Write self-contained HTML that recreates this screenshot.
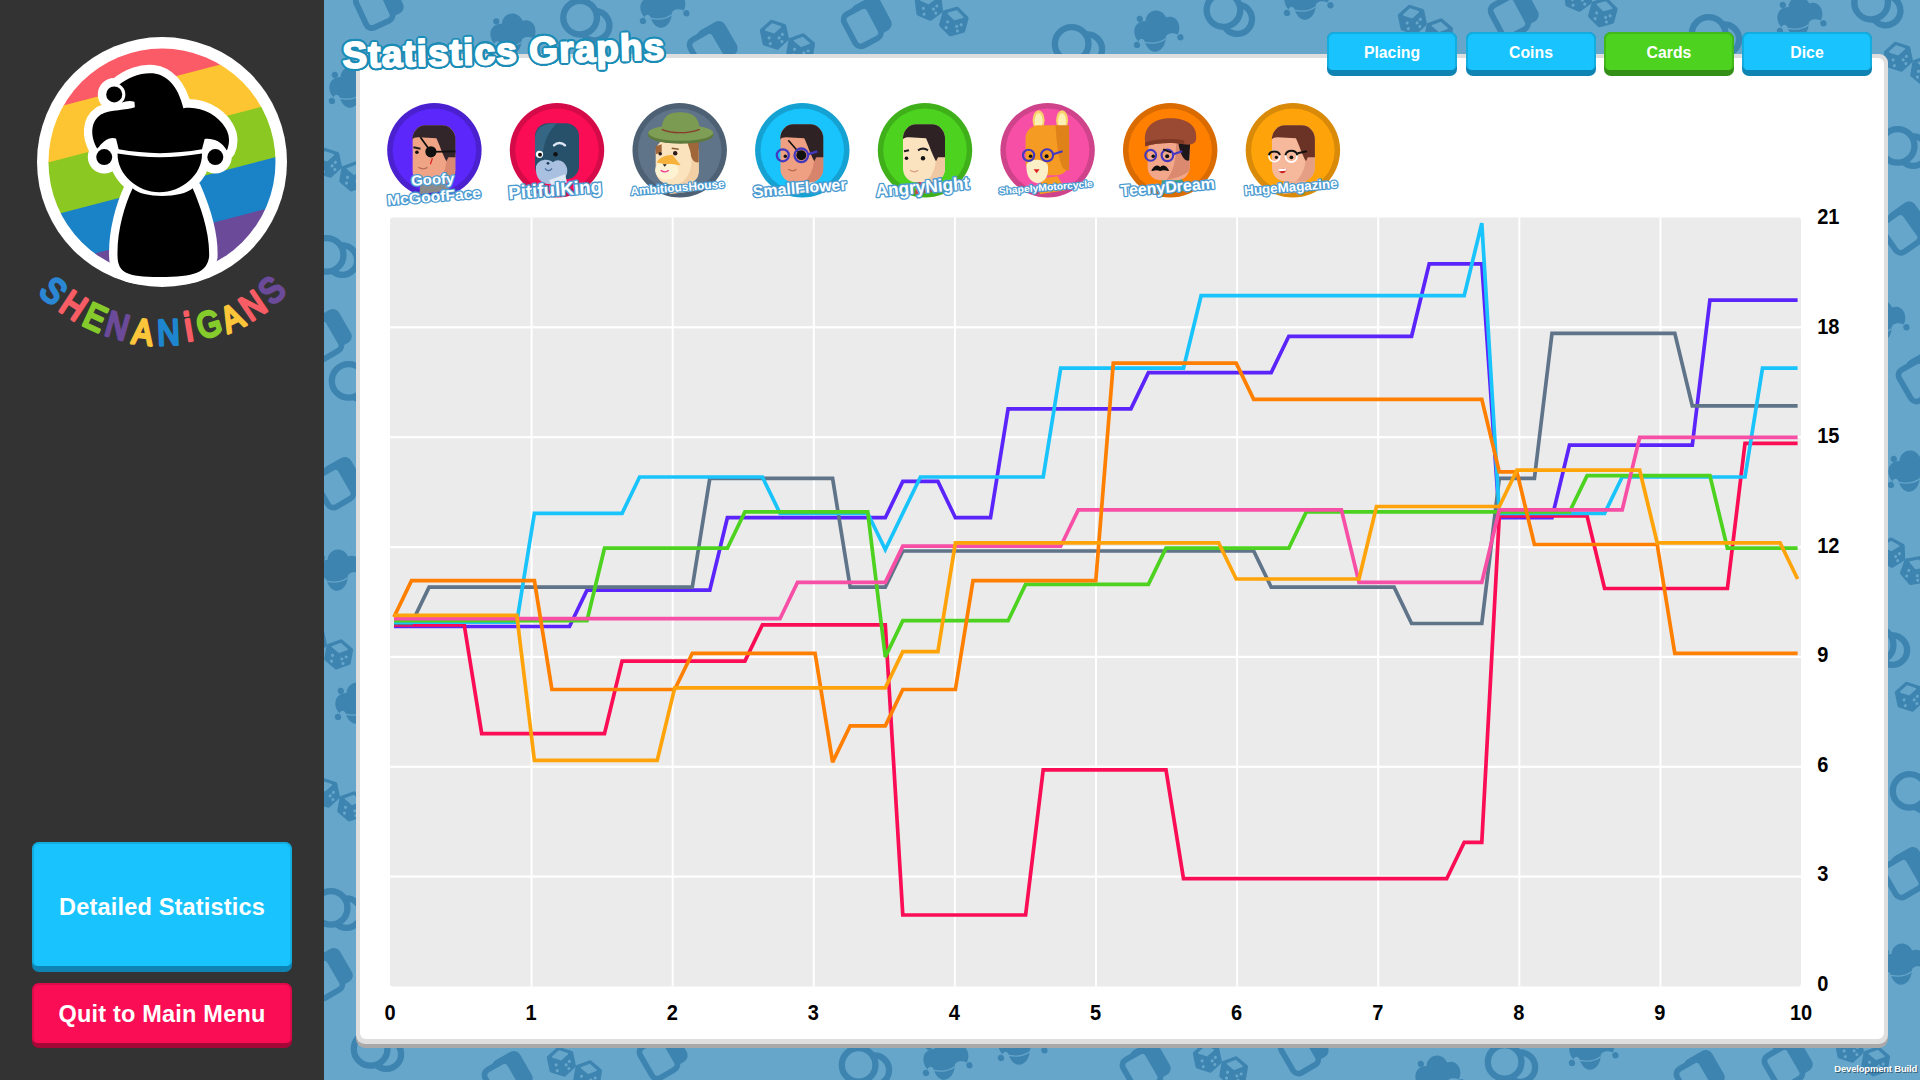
<!DOCTYPE html>
<html lang="en">
<head>
<meta charset="utf-8">
<title>Statistics Graphs</title>
<style>
html,body{margin:0;padding:0;}
body{width:1920px;height:1080px;overflow:hidden;position:relative;background:#66a6ca;font-family:"Liberation Sans","DejaVu Sans",sans-serif;}
.abs{position:absolute;}
#bg{left:324px;top:0;width:1596px;height:1080px;}
#side{left:0;top:0;width:324px;height:1080px;background:#333333;}
#panel{left:356px;top:54px;width:1532px;height:993.5px;background:#a9a9a9;border-radius:9px;}
#panel .mid{position:absolute;left:0;top:0;right:0;bottom:4px;background:#dedede;border-radius:9px;}
#panel .in{position:absolute;left:4px;top:3.5px;right:4px;bottom:8.5px;background:#fff;border-radius:6px;}
.btn{position:absolute;border-radius:7px;color:#fff;font-weight:bold;text-align:center;box-sizing:border-box;}
.btn .face{position:absolute;left:0;top:0;right:0;border-radius:7px 7px 5px 5px;box-sizing:border-box;}
.btn span{position:absolute;left:0;right:0;display:block;}
.tab{width:130px;height:43.5px;top:32px;font-size:15.8px;}
.tab .face{height:38px;}
.tab span{top:12.2px;letter-spacing:0;}
.cy{background:#0f84b3;}
.cy .face{background:#19c4fe;border:2px solid #14addf;border-bottom:none;}
.gr{background:#348f16;}
.gr .face{background:#4cd21f;border:2px solid #42b91b;border-bottom:none;}
.rd{background:#a30837;}
.rd .face{background:#fb0d55;border:2px solid #dc0b4a;border-bottom:none;}
#title{left:343px;top:35px;font-size:37px;font-weight:bold;color:#fff;white-space:nowrap;transform:rotate(-1.55deg);transform-origin:0 100%;letter-spacing:1.1px;-webkit-text-stroke:1.8px #fff;
  text-shadow:2.90px 0.00px 0 #1b8cb6,2.83px 0.65px 0 #1b8cb6,2.61px 1.26px 0 #1b8cb6,2.27px 1.81px 0 #1b8cb6,1.81px 2.27px 0 #1b8cb6,1.26px 2.61px 0 #1b8cb6,0.65px 2.83px 0 #1b8cb6,0.00px 2.90px 0 #1b8cb6,-0.65px 2.83px 0 #1b8cb6,-1.26px 2.61px 0 #1b8cb6,-1.81px 2.27px 0 #1b8cb6,-2.27px 1.81px 0 #1b8cb6,-2.61px 1.26px 0 #1b8cb6,-2.83px 0.65px 0 #1b8cb6,-2.90px 0.00px 0 #1b8cb6,-2.83px -0.65px 0 #1b8cb6,-2.61px -1.26px 0 #1b8cb6,-2.27px -1.81px 0 #1b8cb6,-1.81px -2.27px 0 #1b8cb6,-1.26px -2.61px 0 #1b8cb6,-0.65px -2.83px 0 #1b8cb6,-0.00px -2.90px 0 #1b8cb6,0.65px -2.83px 0 #1b8cb6,1.26px -2.61px 0 #1b8cb6,1.81px -2.27px 0 #1b8cb6,2.27px -1.81px 0 #1b8cb6,2.61px -1.26px 0 #1b8cb6,2.83px -0.65px 0 #1b8cb6,1.60px 0.00px 0 #1b8cb6,1.39px 0.80px 0 #1b8cb6,0.80px 1.39px 0 #1b8cb6,0.00px 1.60px 0 #1b8cb6,-0.80px 1.39px 0 #1b8cb6,-1.39px 0.80px 0 #1b8cb6,-1.60px 0.00px 0 #1b8cb6,-1.39px -0.80px 0 #1b8cb6,-0.80px -1.39px 0 #1b8cb6,-0.00px -1.60px 0 #1b8cb6,0.80px -1.39px 0 #1b8cb6,1.39px -0.80px 0 #1b8cb6;}
.nm{position:absolute;white-space:nowrap;font-weight:bold;color:#fff;text-align:center;transform-origin:50% 50%;line-height:1;}
.nm.o{-webkit-text-stroke:3px #2f8fbe;}
#dev{right:3px;bottom:6px;font-size:9.5px;font-weight:bold;color:#fff;text-shadow:1px 1px 0 rgba(0,0,0,.45);letter-spacing:-0.2px;}
svg text{font-family:"Liberation Sans","DejaVu Sans",sans-serif;}
</style>
</head>
<body>
<!-- background pattern -->
<svg id="bg" class="abs" width="1596" height="1080" viewBox="324 0 1596 1080">
<g transform="translate(378.0,5.0) rotate(-25) scale(1.05)"><rect x="-8" y="-20" width="30" height="36" rx="7" fill="#3d84b1"/><rect x="-18" y="-16" width="27" height="34" rx="6" fill="#66a6ca" stroke="#3d84b1" stroke-width="5.5"/></g>
<g transform="translate(512.0,35.0) rotate(-8) scale(1.05)" fill="#3d84b1"><path d="M-18 6 C-24 -4 -18 -14 -8 -12 C-6 -22 8 -24 12 -12 C22 -14 26 -2 20 6 C14 2 8 4 8 8 C4 22 -10 22 -12 8 C-12 4 -16 2 -18 6 Z"/><circle cx="-20" cy="9" r="3"/><circle cx="22" cy="9" r="3"/><circle cx="-13" cy="-15" r="3"/><path d="M-12 8 C-4 11 2 11 8 8" stroke="#66a6ca" stroke-width="1.2" fill="none"/></g>
<g transform="translate(587.0,21.0) rotate(10) scale(1.05)" fill="none" stroke="#3d84b1" stroke-width="6"><circle cx="8" cy="3" r="14"/><circle cx="-7" cy="-2" r="16" fill="#66a6ca"/></g>
<g transform="translate(662.0,8.0) rotate(-10) scale(1.05)" fill="#3d84b1"><path d="M-18 6 C-24 -4 -18 -14 -8 -12 C-6 -22 8 -24 12 -12 C22 -14 26 -2 20 6 C14 2 8 4 8 8 C4 22 -10 22 -12 8 C-12 4 -16 2 -18 6 Z"/><circle cx="-20" cy="9" r="3"/><circle cx="22" cy="9" r="3"/><circle cx="-13" cy="-15" r="3"/><path d="M-12 8 C-4 11 2 11 8 8" stroke="#66a6ca" stroke-width="1.2" fill="none"/></g>
<g transform="translate(712.0,48.0) rotate(-30) scale(1.05)"><rect x="-8" y="-20" width="30" height="36" rx="7" fill="#3d84b1"/><rect x="-18" y="-16" width="27" height="34" rx="6" fill="#66a6ca" stroke="#3d84b1" stroke-width="5.5"/></g>
<g transform="translate(787.0,40.0) rotate(0) scale(1.05)"><g transform="translate(-12.0,-5.0) rotate(-12)"><polygon points="0.0,-12.5 10.8,-6.2 10.8,6.2 0.0,12.5 -10.8,6.2 -10.8,-6.3" fill="#3d84b1" stroke="#3d84b1" stroke-width="4" stroke-linejoin="round"/><polygon points="0.0,-10.4 7.1,-6.2 0.0,-2.1 -7.1,-6.2" fill="#66a6ca" stroke="#66a6ca" stroke-width="1.5" stroke-linejoin="round"/><circle cx="-5.6" cy="1.9" r="1.5" fill="#66a6ca"/><circle cx="-5.6" cy="7.5" r="1.5" fill="#66a6ca"/><circle cx="3.8" cy="3.8" r="1.5" fill="#66a6ca"/><circle cx="7.5" cy="1.2" r="1.5" fill="#66a6ca"/><circle cx="5.6" cy="7.8" r="1.5" fill="#66a6ca"/></g><g transform="translate(13.0,8.0) rotate(10)"><polygon points="0.0,-12.5 10.8,-6.2 10.8,6.2 0.0,12.5 -10.8,6.2 -10.8,-6.3" fill="#3d84b1" stroke="#3d84b1" stroke-width="4" stroke-linejoin="round"/><polygon points="0.0,-10.4 7.1,-6.2 0.0,-2.1 -7.1,-6.2" fill="#66a6ca" stroke="#66a6ca" stroke-width="1.5" stroke-linejoin="round"/><circle cx="-5.6" cy="1.9" r="1.5" fill="#66a6ca"/><circle cx="-5.6" cy="7.5" r="1.5" fill="#66a6ca"/><circle cx="3.8" cy="3.8" r="1.5" fill="#66a6ca"/><circle cx="7.5" cy="1.2" r="1.5" fill="#66a6ca"/><circle cx="5.6" cy="7.8" r="1.5" fill="#66a6ca"/></g></g>
<g transform="translate(866.0,23.0) rotate(-28) scale(1.05)"><rect x="-8" y="-20" width="30" height="36" rx="7" fill="#3d84b1"/><rect x="-18" y="-16" width="27" height="34" rx="6" fill="#66a6ca" stroke="#3d84b1" stroke-width="5.5"/></g>
<g transform="translate(941.0,12.0) rotate(5) scale(1.05)"><g transform="translate(-12.0,-5.0) rotate(-12)"><polygon points="0.0,-12.5 10.8,-6.2 10.8,6.2 0.0,12.5 -10.8,6.2 -10.8,-6.3" fill="#3d84b1" stroke="#3d84b1" stroke-width="4" stroke-linejoin="round"/><polygon points="0.0,-10.4 7.1,-6.2 0.0,-2.1 -7.1,-6.2" fill="#66a6ca" stroke="#66a6ca" stroke-width="1.5" stroke-linejoin="round"/><circle cx="-5.6" cy="1.9" r="1.5" fill="#66a6ca"/><circle cx="-5.6" cy="7.5" r="1.5" fill="#66a6ca"/><circle cx="3.8" cy="3.8" r="1.5" fill="#66a6ca"/><circle cx="7.5" cy="1.2" r="1.5" fill="#66a6ca"/><circle cx="5.6" cy="7.8" r="1.5" fill="#66a6ca"/></g><g transform="translate(13.0,8.0) rotate(10)"><polygon points="0.0,-12.5 10.8,-6.2 10.8,6.2 0.0,12.5 -10.8,6.2 -10.8,-6.3" fill="#3d84b1" stroke="#3d84b1" stroke-width="4" stroke-linejoin="round"/><polygon points="0.0,-10.4 7.1,-6.2 0.0,-2.1 -7.1,-6.2" fill="#66a6ca" stroke="#66a6ca" stroke-width="1.5" stroke-linejoin="round"/><circle cx="-5.6" cy="1.9" r="1.5" fill="#66a6ca"/><circle cx="-5.6" cy="7.5" r="1.5" fill="#66a6ca"/><circle cx="3.8" cy="3.8" r="1.5" fill="#66a6ca"/><circle cx="7.5" cy="1.2" r="1.5" fill="#66a6ca"/><circle cx="5.6" cy="7.8" r="1.5" fill="#66a6ca"/></g></g>
<g transform="translate(1079.0,46.0) rotate(0) scale(1.05)" fill="none" stroke="#3d84b1" stroke-width="6"><circle cx="8" cy="3" r="14"/><circle cx="-7" cy="-2" r="16" fill="#66a6ca"/></g>
<g transform="translate(1156.0,32.0) rotate(-10) scale(1.05)" fill="#3d84b1"><path d="M-18 6 C-24 -4 -18 -14 -8 -12 C-6 -22 8 -24 12 -12 C22 -14 26 -2 20 6 C14 2 8 4 8 8 C4 22 -10 22 -12 8 C-12 4 -16 2 -18 6 Z"/><circle cx="-20" cy="9" r="3"/><circle cx="22" cy="9" r="3"/><circle cx="-13" cy="-15" r="3"/><path d="M-12 8 C-4 11 2 11 8 8" stroke="#66a6ca" stroke-width="1.2" fill="none"/></g>
<g transform="translate(1230.0,14.0) rotate(15) scale(1.05)" fill="none" stroke="#3d84b1" stroke-width="6"><circle cx="8" cy="3" r="14"/><circle cx="-7" cy="-2" r="16" fill="#66a6ca"/></g>
<g transform="translate(1306.0,0.0) rotate(-10) scale(1.05)" fill="#3d84b1"><path d="M-18 6 C-24 -4 -18 -14 -8 -12 C-6 -22 8 -24 12 -12 C22 -14 26 -2 20 6 C14 2 8 4 8 8 C4 22 -10 22 -12 8 C-12 4 -16 2 -18 6 Z"/><circle cx="-20" cy="9" r="3"/><circle cx="22" cy="9" r="3"/><circle cx="-13" cy="-15" r="3"/><path d="M-12 8 C-4 11 2 11 8 8" stroke="#66a6ca" stroke-width="1.2" fill="none"/></g>
<g transform="translate(1425.0,25.0) rotate(0) scale(1.05)"><g transform="translate(-12.0,-5.0) rotate(-12)"><polygon points="0.0,-12.5 10.8,-6.2 10.8,6.2 0.0,12.5 -10.8,6.2 -10.8,-6.3" fill="#3d84b1" stroke="#3d84b1" stroke-width="4" stroke-linejoin="round"/><polygon points="0.0,-10.4 7.1,-6.2 0.0,-2.1 -7.1,-6.2" fill="#66a6ca" stroke="#66a6ca" stroke-width="1.5" stroke-linejoin="round"/><circle cx="-5.6" cy="1.9" r="1.5" fill="#66a6ca"/><circle cx="-5.6" cy="7.5" r="1.5" fill="#66a6ca"/><circle cx="3.8" cy="3.8" r="1.5" fill="#66a6ca"/><circle cx="7.5" cy="1.2" r="1.5" fill="#66a6ca"/><circle cx="5.6" cy="7.8" r="1.5" fill="#66a6ca"/></g><g transform="translate(13.0,8.0) rotate(10)"><polygon points="0.0,-12.5 10.8,-6.2 10.8,6.2 0.0,12.5 -10.8,6.2 -10.8,-6.3" fill="#3d84b1" stroke="#3d84b1" stroke-width="4" stroke-linejoin="round"/><polygon points="0.0,-10.4 7.1,-6.2 0.0,-2.1 -7.1,-6.2" fill="#66a6ca" stroke="#66a6ca" stroke-width="1.5" stroke-linejoin="round"/><circle cx="-5.6" cy="1.9" r="1.5" fill="#66a6ca"/><circle cx="-5.6" cy="7.5" r="1.5" fill="#66a6ca"/><circle cx="3.8" cy="3.8" r="1.5" fill="#66a6ca"/><circle cx="7.5" cy="1.2" r="1.5" fill="#66a6ca"/><circle cx="5.6" cy="7.8" r="1.5" fill="#66a6ca"/></g></g>
<g transform="translate(1513.0,14.0) rotate(-28) scale(1.05)"><rect x="-8" y="-20" width="30" height="36" rx="7" fill="#3d84b1"/><rect x="-18" y="-16" width="27" height="34" rx="6" fill="#66a6ca" stroke="#3d84b1" stroke-width="5.5"/></g>
<g transform="translate(1590.0,3.0) rotate(5) scale(1.05)"><g transform="translate(-12.0,-5.0) rotate(-12)"><polygon points="0.0,-12.5 10.8,-6.2 10.8,6.2 0.0,12.5 -10.8,6.2 -10.8,-6.3" fill="#3d84b1" stroke="#3d84b1" stroke-width="4" stroke-linejoin="round"/><polygon points="0.0,-10.4 7.1,-6.2 0.0,-2.1 -7.1,-6.2" fill="#66a6ca" stroke="#66a6ca" stroke-width="1.5" stroke-linejoin="round"/><circle cx="-5.6" cy="1.9" r="1.5" fill="#66a6ca"/><circle cx="-5.6" cy="7.5" r="1.5" fill="#66a6ca"/><circle cx="3.8" cy="3.8" r="1.5" fill="#66a6ca"/><circle cx="7.5" cy="1.2" r="1.5" fill="#66a6ca"/><circle cx="5.6" cy="7.8" r="1.5" fill="#66a6ca"/></g><g transform="translate(13.0,8.0) rotate(10)"><polygon points="0.0,-12.5 10.8,-6.2 10.8,6.2 0.0,12.5 -10.8,6.2 -10.8,-6.3" fill="#3d84b1" stroke="#3d84b1" stroke-width="4" stroke-linejoin="round"/><polygon points="0.0,-10.4 7.1,-6.2 0.0,-2.1 -7.1,-6.2" fill="#66a6ca" stroke="#66a6ca" stroke-width="1.5" stroke-linejoin="round"/><circle cx="-5.6" cy="1.9" r="1.5" fill="#66a6ca"/><circle cx="-5.6" cy="7.5" r="1.5" fill="#66a6ca"/><circle cx="3.8" cy="3.8" r="1.5" fill="#66a6ca"/><circle cx="7.5" cy="1.2" r="1.5" fill="#66a6ca"/><circle cx="5.6" cy="7.8" r="1.5" fill="#66a6ca"/></g></g>
<g transform="translate(1716.0,36.0) rotate(0) scale(1.05)" fill="none" stroke="#3d84b1" stroke-width="6"><circle cx="8" cy="3" r="14"/><circle cx="-7" cy="-2" r="16" fill="#66a6ca"/></g>
<g transform="translate(1799.0,18.0) rotate(-10) scale(1.05)" fill="#3d84b1"><path d="M-18 6 C-24 -4 -18 -14 -8 -12 C-6 -22 8 -24 12 -12 C22 -14 26 -2 20 6 C14 2 8 4 8 8 C4 22 -10 22 -12 8 C-12 4 -16 2 -18 6 Z"/><circle cx="-20" cy="9" r="3"/><circle cx="22" cy="9" r="3"/><circle cx="-13" cy="-15" r="3"/><path d="M-12 8 C-4 11 2 11 8 8" stroke="#66a6ca" stroke-width="1.2" fill="none"/></g>
<g transform="translate(1878.0,6.0) rotate(10) scale(1.05)" fill="none" stroke="#3d84b1" stroke-width="6"><circle cx="8" cy="3" r="14"/><circle cx="-7" cy="-2" r="16" fill="#66a6ca"/></g>
<g transform="translate(1911.0,62.0) rotate(0) scale(1.05)"><g transform="translate(-12.0,-5.0) rotate(-12)"><polygon points="0.0,-12.5 10.8,-6.2 10.8,6.2 0.0,12.5 -10.8,6.2 -10.8,-6.3" fill="#3d84b1" stroke="#3d84b1" stroke-width="4" stroke-linejoin="round"/><polygon points="0.0,-10.4 7.1,-6.2 0.0,-2.1 -7.1,-6.2" fill="#66a6ca" stroke="#66a6ca" stroke-width="1.5" stroke-linejoin="round"/><circle cx="-5.6" cy="1.9" r="1.5" fill="#66a6ca"/><circle cx="-5.6" cy="7.5" r="1.5" fill="#66a6ca"/><circle cx="3.8" cy="3.8" r="1.5" fill="#66a6ca"/><circle cx="7.5" cy="1.2" r="1.5" fill="#66a6ca"/><circle cx="5.6" cy="7.8" r="1.5" fill="#66a6ca"/></g><g transform="translate(13.0,8.0) rotate(10)"><polygon points="0.0,-12.5 10.8,-6.2 10.8,6.2 0.0,12.5 -10.8,6.2 -10.8,-6.3" fill="#3d84b1" stroke="#3d84b1" stroke-width="4" stroke-linejoin="round"/><polygon points="0.0,-10.4 7.1,-6.2 0.0,-2.1 -7.1,-6.2" fill="#66a6ca" stroke="#66a6ca" stroke-width="1.5" stroke-linejoin="round"/><circle cx="-5.6" cy="1.9" r="1.5" fill="#66a6ca"/><circle cx="-5.6" cy="7.5" r="1.5" fill="#66a6ca"/><circle cx="3.8" cy="3.8" r="1.5" fill="#66a6ca"/><circle cx="7.5" cy="1.2" r="1.5" fill="#66a6ca"/><circle cx="5.6" cy="7.8" r="1.5" fill="#66a6ca"/></g></g>
<g transform="translate(1905.0,148.0) rotate(0) scale(1.05)" fill="none" stroke="#3d84b1" stroke-width="6"><circle cx="8" cy="3" r="14"/><circle cx="-7" cy="-2" r="16" fill="#66a6ca"/></g>
<g transform="translate(1904.0,229.0) rotate(-35) scale(1.05)"><rect x="-8" y="-20" width="30" height="36" rx="7" fill="#3d84b1"/><rect x="-18" y="-16" width="27" height="34" rx="6" fill="#66a6ca" stroke="#3d84b1" stroke-width="5.5"/></g>
<g transform="translate(1882.0,322.0) rotate(-10) scale(1.05)" fill="#3d84b1"><path d="M-18 6 C-24 -4 -18 -14 -8 -12 C-6 -22 8 -24 12 -12 C22 -14 26 -2 20 6 C14 2 8 4 8 8 C4 22 -10 22 -12 8 C-12 4 -16 2 -18 6 Z"/><circle cx="-20" cy="9" r="3"/><circle cx="22" cy="9" r="3"/><circle cx="-13" cy="-15" r="3"/><path d="M-12 8 C-4 11 2 11 8 8" stroke="#66a6ca" stroke-width="1.2" fill="none"/></g>
<g transform="translate(1921.0,378.0) rotate(-30) scale(1.05)"><rect x="-8" y="-20" width="30" height="36" rx="7" fill="#3d84b1"/><rect x="-18" y="-16" width="27" height="34" rx="6" fill="#66a6ca" stroke="#3d84b1" stroke-width="5.5"/></g>
<g transform="translate(1910.0,472.0) rotate(-10) scale(1.05)" fill="#3d84b1"><path d="M-18 6 C-24 -4 -18 -14 -8 -12 C-6 -22 8 -24 12 -12 C22 -14 26 -2 20 6 C14 2 8 4 8 8 C4 22 -10 22 -12 8 C-12 4 -16 2 -18 6 Z"/><circle cx="-20" cy="9" r="3"/><circle cx="22" cy="9" r="3"/><circle cx="-13" cy="-15" r="3"/><path d="M-12 8 C-4 11 2 11 8 8" stroke="#66a6ca" stroke-width="1.2" fill="none"/></g>
<g transform="translate(1903.0,560.0) rotate(10) scale(1.05)"><g transform="translate(-12.0,-5.0) rotate(-12)"><polygon points="0.0,-12.5 10.8,-6.2 10.8,6.2 0.0,12.5 -10.8,6.2 -10.8,-6.3" fill="#3d84b1" stroke="#3d84b1" stroke-width="4" stroke-linejoin="round"/><polygon points="0.0,-10.4 7.1,-6.2 0.0,-2.1 -7.1,-6.2" fill="#66a6ca" stroke="#66a6ca" stroke-width="1.5" stroke-linejoin="round"/><circle cx="-5.6" cy="1.9" r="1.5" fill="#66a6ca"/><circle cx="-5.6" cy="7.5" r="1.5" fill="#66a6ca"/><circle cx="3.8" cy="3.8" r="1.5" fill="#66a6ca"/><circle cx="7.5" cy="1.2" r="1.5" fill="#66a6ca"/><circle cx="5.6" cy="7.8" r="1.5" fill="#66a6ca"/></g><g transform="translate(13.0,8.0) rotate(10)"><polygon points="0.0,-12.5 10.8,-6.2 10.8,6.2 0.0,12.5 -10.8,6.2 -10.8,-6.3" fill="#3d84b1" stroke="#3d84b1" stroke-width="4" stroke-linejoin="round"/><polygon points="0.0,-10.4 7.1,-6.2 0.0,-2.1 -7.1,-6.2" fill="#66a6ca" stroke="#66a6ca" stroke-width="1.5" stroke-linejoin="round"/><circle cx="-5.6" cy="1.9" r="1.5" fill="#66a6ca"/><circle cx="-5.6" cy="7.5" r="1.5" fill="#66a6ca"/><circle cx="3.8" cy="3.8" r="1.5" fill="#66a6ca"/><circle cx="7.5" cy="1.2" r="1.5" fill="#66a6ca"/><circle cx="5.6" cy="7.8" r="1.5" fill="#66a6ca"/></g></g>
<g transform="translate(1884.0,647.0) rotate(0) scale(1.05)" fill="none" stroke="#3d84b1" stroke-width="6"><circle cx="8" cy="3" r="14"/><circle cx="-7" cy="-2" r="16" fill="#66a6ca"/></g>
<g transform="translate(1922.0,702.0) rotate(0) scale(1.05)"><g transform="translate(-12.0,-5.0) rotate(-12)"><polygon points="0.0,-12.5 10.8,-6.2 10.8,6.2 0.0,12.5 -10.8,6.2 -10.8,-6.3" fill="#3d84b1" stroke="#3d84b1" stroke-width="4" stroke-linejoin="round"/><polygon points="0.0,-10.4 7.1,-6.2 0.0,-2.1 -7.1,-6.2" fill="#66a6ca" stroke="#66a6ca" stroke-width="1.5" stroke-linejoin="round"/><circle cx="-5.6" cy="1.9" r="1.5" fill="#66a6ca"/><circle cx="-5.6" cy="7.5" r="1.5" fill="#66a6ca"/><circle cx="3.8" cy="3.8" r="1.5" fill="#66a6ca"/><circle cx="7.5" cy="1.2" r="1.5" fill="#66a6ca"/><circle cx="5.6" cy="7.8" r="1.5" fill="#66a6ca"/></g><g transform="translate(13.0,8.0) rotate(10)"><polygon points="0.0,-12.5 10.8,-6.2 10.8,6.2 0.0,12.5 -10.8,6.2 -10.8,-6.3" fill="#3d84b1" stroke="#3d84b1" stroke-width="4" stroke-linejoin="round"/><polygon points="0.0,-10.4 7.1,-6.2 0.0,-2.1 -7.1,-6.2" fill="#66a6ca" stroke="#66a6ca" stroke-width="1.5" stroke-linejoin="round"/><circle cx="-5.6" cy="1.9" r="1.5" fill="#66a6ca"/><circle cx="-5.6" cy="7.5" r="1.5" fill="#66a6ca"/><circle cx="3.8" cy="3.8" r="1.5" fill="#66a6ca"/><circle cx="7.5" cy="1.2" r="1.5" fill="#66a6ca"/><circle cx="5.6" cy="7.8" r="1.5" fill="#66a6ca"/></g></g>
<g transform="translate(1917.0,793.0) rotate(0) scale(1.05)" fill="none" stroke="#3d84b1" stroke-width="6"><circle cx="8" cy="3" r="14"/><circle cx="-7" cy="-2" r="16" fill="#66a6ca"/></g>
<g transform="translate(1906.0,874.0) rotate(-30) scale(1.05)"><rect x="-8" y="-20" width="30" height="36" rx="7" fill="#3d84b1"/><rect x="-18" y="-16" width="27" height="34" rx="6" fill="#66a6ca" stroke="#3d84b1" stroke-width="5.5"/></g>
<g transform="translate(1902.0,965.0) rotate(-10) scale(1.05)" fill="#3d84b1"><path d="M-18 6 C-24 -4 -18 -14 -8 -12 C-6 -22 8 -24 12 -12 C22 -14 26 -2 20 6 C14 2 8 4 8 8 C4 22 -10 22 -12 8 C-12 4 -16 2 -18 6 Z"/><circle cx="-20" cy="9" r="3"/><circle cx="22" cy="9" r="3"/><circle cx="-13" cy="-15" r="3"/><path d="M-12 8 C-4 11 2 11 8 8" stroke="#66a6ca" stroke-width="1.2" fill="none"/></g>
<g transform="translate(378.0,1051.0) rotate(0) scale(1.05)" fill="none" stroke="#3d84b1" stroke-width="6"><circle cx="8" cy="3" r="14"/><circle cx="-7" cy="-2" r="16" fill="#66a6ca"/></g>
<g transform="translate(507.0,1078.0) rotate(-30) scale(1.05)"><rect x="-8" y="-20" width="30" height="36" rx="7" fill="#3d84b1"/><rect x="-18" y="-16" width="27" height="34" rx="6" fill="#66a6ca" stroke="#3d84b1" stroke-width="5.5"/></g>
<g transform="translate(574.0,1067.0) rotate(0) scale(1.05)"><g transform="translate(-12.0,-5.0) rotate(-12)"><polygon points="0.0,-12.5 10.8,-6.2 10.8,6.2 0.0,12.5 -10.8,6.2 -10.8,-6.3" fill="#3d84b1" stroke="#3d84b1" stroke-width="4" stroke-linejoin="round"/><polygon points="0.0,-10.4 7.1,-6.2 0.0,-2.1 -7.1,-6.2" fill="#66a6ca" stroke="#66a6ca" stroke-width="1.5" stroke-linejoin="round"/><circle cx="-5.6" cy="1.9" r="1.5" fill="#66a6ca"/><circle cx="-5.6" cy="7.5" r="1.5" fill="#66a6ca"/><circle cx="3.8" cy="3.8" r="1.5" fill="#66a6ca"/><circle cx="7.5" cy="1.2" r="1.5" fill="#66a6ca"/><circle cx="5.6" cy="7.8" r="1.5" fill="#66a6ca"/></g><g transform="translate(13.0,8.0) rotate(10)"><polygon points="0.0,-12.5 10.8,-6.2 10.8,6.2 0.0,12.5 -10.8,6.2 -10.8,-6.3" fill="#3d84b1" stroke="#3d84b1" stroke-width="4" stroke-linejoin="round"/><polygon points="0.0,-10.4 7.1,-6.2 0.0,-2.1 -7.1,-6.2" fill="#66a6ca" stroke="#66a6ca" stroke-width="1.5" stroke-linejoin="round"/><circle cx="-5.6" cy="1.9" r="1.5" fill="#66a6ca"/><circle cx="-5.6" cy="7.5" r="1.5" fill="#66a6ca"/><circle cx="3.8" cy="3.8" r="1.5" fill="#66a6ca"/><circle cx="7.5" cy="1.2" r="1.5" fill="#66a6ca"/><circle cx="5.6" cy="7.8" r="1.5" fill="#66a6ca"/></g></g>
<g transform="translate(662.0,1055.0) rotate(-30) scale(1.05)"><rect x="-8" y="-20" width="30" height="36" rx="7" fill="#3d84b1"/><rect x="-18" y="-16" width="27" height="34" rx="6" fill="#66a6ca" stroke="#3d84b1" stroke-width="5.5"/></g>
<g transform="translate(866.0,1067.0) rotate(0) scale(1.05)" fill="none" stroke="#3d84b1" stroke-width="6"><circle cx="8" cy="3" r="14"/><circle cx="-7" cy="-2" r="16" fill="#66a6ca"/></g>
<g transform="translate(945.0,1060.0) rotate(-10) scale(1.05)" fill="#3d84b1"><path d="M-18 6 C-24 -4 -18 -14 -8 -12 C-6 -22 8 -24 12 -12 C22 -14 26 -2 20 6 C14 2 8 4 8 8 C4 22 -10 22 -12 8 C-12 4 -16 2 -18 6 Z"/><circle cx="-20" cy="9" r="3"/><circle cx="22" cy="9" r="3"/><circle cx="-13" cy="-15" r="3"/><path d="M-12 8 C-4 11 2 11 8 8" stroke="#66a6ca" stroke-width="1.2" fill="none"/></g>
<g transform="translate(1020.0,1045.0) rotate(-10) scale(1.05)" fill="#3d84b1"><path d="M-18 6 C-24 -4 -18 -14 -8 -12 C-6 -22 8 -24 12 -12 C22 -14 26 -2 20 6 C14 2 8 4 8 8 C4 22 -10 22 -12 8 C-12 4 -16 2 -18 6 Z"/><circle cx="-20" cy="9" r="3"/><circle cx="22" cy="9" r="3"/><circle cx="-13" cy="-15" r="3"/><path d="M-12 8 C-4 11 2 11 8 8" stroke="#66a6ca" stroke-width="1.2" fill="none"/></g>
<g transform="translate(1145.0,1068.0) rotate(-30) scale(1.05)"><rect x="-8" y="-20" width="30" height="36" rx="7" fill="#3d84b1"/><rect x="-18" y="-16" width="27" height="34" rx="6" fill="#66a6ca" stroke="#3d84b1" stroke-width="5.5"/></g>
<g transform="translate(1220.0,1063.0) rotate(0) scale(1.05)"><g transform="translate(-12.0,-5.0) rotate(-12)"><polygon points="0.0,-12.5 10.8,-6.2 10.8,6.2 0.0,12.5 -10.8,6.2 -10.8,-6.3" fill="#3d84b1" stroke="#3d84b1" stroke-width="4" stroke-linejoin="round"/><polygon points="0.0,-10.4 7.1,-6.2 0.0,-2.1 -7.1,-6.2" fill="#66a6ca" stroke="#66a6ca" stroke-width="1.5" stroke-linejoin="round"/><circle cx="-5.6" cy="1.9" r="1.5" fill="#66a6ca"/><circle cx="-5.6" cy="7.5" r="1.5" fill="#66a6ca"/><circle cx="3.8" cy="3.8" r="1.5" fill="#66a6ca"/><circle cx="7.5" cy="1.2" r="1.5" fill="#66a6ca"/><circle cx="5.6" cy="7.8" r="1.5" fill="#66a6ca"/></g><g transform="translate(13.0,8.0) rotate(10)"><polygon points="0.0,-12.5 10.8,-6.2 10.8,6.2 0.0,12.5 -10.8,6.2 -10.8,-6.3" fill="#3d84b1" stroke="#3d84b1" stroke-width="4" stroke-linejoin="round"/><polygon points="0.0,-10.4 7.1,-6.2 0.0,-2.1 -7.1,-6.2" fill="#66a6ca" stroke="#66a6ca" stroke-width="1.5" stroke-linejoin="round"/><circle cx="-5.6" cy="1.9" r="1.5" fill="#66a6ca"/><circle cx="-5.6" cy="7.5" r="1.5" fill="#66a6ca"/><circle cx="3.8" cy="3.8" r="1.5" fill="#66a6ca"/><circle cx="7.5" cy="1.2" r="1.5" fill="#66a6ca"/><circle cx="5.6" cy="7.8" r="1.5" fill="#66a6ca"/></g></g>
<g transform="translate(1303.0,1050.0) rotate(-30) scale(1.05)"><rect x="-8" y="-20" width="30" height="36" rx="7" fill="#3d84b1"/><rect x="-18" y="-16" width="27" height="34" rx="6" fill="#66a6ca" stroke="#3d84b1" stroke-width="5.5"/></g>
<g transform="translate(1437.0,1077.0) rotate(-10) scale(1.05)" fill="#3d84b1"><path d="M-18 6 C-24 -4 -18 -14 -8 -12 C-6 -22 8 -24 12 -12 C22 -14 26 -2 20 6 C14 2 8 4 8 8 C4 22 -10 22 -12 8 C-12 4 -16 2 -18 6 Z"/><circle cx="-20" cy="9" r="3"/><circle cx="22" cy="9" r="3"/><circle cx="-13" cy="-15" r="3"/><path d="M-12 8 C-4 11 2 11 8 8" stroke="#66a6ca" stroke-width="1.2" fill="none"/></g>
<g transform="translate(1512.0,1064.0) rotate(0) scale(1.05)" fill="none" stroke="#3d84b1" stroke-width="6"><circle cx="8" cy="3" r="14"/><circle cx="-7" cy="-2" r="16" fill="#66a6ca"/></g>
<g transform="translate(1591.0,1050.0) rotate(-10) scale(1.05)" fill="#3d84b1"><path d="M-18 6 C-24 -4 -18 -14 -8 -12 C-6 -22 8 -24 12 -12 C22 -14 26 -2 20 6 C14 2 8 4 8 8 C4 22 -10 22 -12 8 C-12 4 -16 2 -18 6 Z"/><circle cx="-20" cy="9" r="3"/><circle cx="22" cy="9" r="3"/><circle cx="-13" cy="-15" r="3"/><path d="M-12 8 C-4 11 2 11 8 8" stroke="#66a6ca" stroke-width="1.2" fill="none"/></g>
<g transform="translate(1699.0,1077.0) rotate(-30) scale(1.05)"><rect x="-8" y="-20" width="30" height="36" rx="7" fill="#3d84b1"/><rect x="-18" y="-16" width="27" height="34" rx="6" fill="#66a6ca" stroke="#3d84b1" stroke-width="5.5"/></g>
<g transform="translate(1787.0,1064.0) rotate(-30) scale(1.05)"><rect x="-8" y="-20" width="30" height="36" rx="7" fill="#3d84b1"/><rect x="-18" y="-16" width="27" height="34" rx="6" fill="#66a6ca" stroke="#3d84b1" stroke-width="5.5"/></g>
<g transform="translate(1862.0,1053.0) rotate(0) scale(1.05)"><g transform="translate(-12.0,-5.0) rotate(-12)"><polygon points="0.0,-12.5 10.8,-6.2 10.8,6.2 0.0,12.5 -10.8,6.2 -10.8,-6.3" fill="#3d84b1" stroke="#3d84b1" stroke-width="4" stroke-linejoin="round"/><polygon points="0.0,-10.4 7.1,-6.2 0.0,-2.1 -7.1,-6.2" fill="#66a6ca" stroke="#66a6ca" stroke-width="1.5" stroke-linejoin="round"/><circle cx="-5.6" cy="1.9" r="1.5" fill="#66a6ca"/><circle cx="-5.6" cy="7.5" r="1.5" fill="#66a6ca"/><circle cx="3.8" cy="3.8" r="1.5" fill="#66a6ca"/><circle cx="7.5" cy="1.2" r="1.5" fill="#66a6ca"/><circle cx="5.6" cy="7.8" r="1.5" fill="#66a6ca"/></g><g transform="translate(13.0,8.0) rotate(10)"><polygon points="0.0,-12.5 10.8,-6.2 10.8,6.2 0.0,12.5 -10.8,6.2 -10.8,-6.3" fill="#3d84b1" stroke="#3d84b1" stroke-width="4" stroke-linejoin="round"/><polygon points="0.0,-10.4 7.1,-6.2 0.0,-2.1 -7.1,-6.2" fill="#66a6ca" stroke="#66a6ca" stroke-width="1.5" stroke-linejoin="round"/><circle cx="-5.6" cy="1.9" r="1.5" fill="#66a6ca"/><circle cx="-5.6" cy="7.5" r="1.5" fill="#66a6ca"/><circle cx="3.8" cy="3.8" r="1.5" fill="#66a6ca"/><circle cx="7.5" cy="1.2" r="1.5" fill="#66a6ca"/><circle cx="5.6" cy="7.8" r="1.5" fill="#66a6ca"/></g></g>
<g transform="translate(351.0,88.0) rotate(-10) scale(1.05)" fill="#3d84b1"><path d="M-18 6 C-24 -4 -18 -14 -8 -12 C-6 -22 8 -24 12 -12 C22 -14 26 -2 20 6 C14 2 8 4 8 8 C4 22 -10 22 -12 8 C-12 4 -16 2 -18 6 Z"/><circle cx="-20" cy="9" r="3"/><circle cx="22" cy="9" r="3"/><circle cx="-13" cy="-15" r="3"/><path d="M-12 8 C-4 11 2 11 8 8" stroke="#66a6ca" stroke-width="1.2" fill="none"/></g>
<g transform="translate(340.0,168.0) rotate(0) scale(1.05)"><g transform="translate(-12.0,-5.0) rotate(-12)"><polygon points="0.0,-12.5 10.8,-6.2 10.8,6.2 0.0,12.5 -10.8,6.2 -10.8,-6.3" fill="#3d84b1" stroke="#3d84b1" stroke-width="4" stroke-linejoin="round"/><polygon points="0.0,-10.4 7.1,-6.2 0.0,-2.1 -7.1,-6.2" fill="#66a6ca" stroke="#66a6ca" stroke-width="1.5" stroke-linejoin="round"/><circle cx="-5.6" cy="1.9" r="1.5" fill="#66a6ca"/><circle cx="-5.6" cy="7.5" r="1.5" fill="#66a6ca"/><circle cx="3.8" cy="3.8" r="1.5" fill="#66a6ca"/><circle cx="7.5" cy="1.2" r="1.5" fill="#66a6ca"/><circle cx="5.6" cy="7.8" r="1.5" fill="#66a6ca"/></g><g transform="translate(13.0,8.0) rotate(10)"><polygon points="0.0,-12.5 10.8,-6.2 10.8,6.2 0.0,12.5 -10.8,6.2 -10.8,-6.3" fill="#3d84b1" stroke="#3d84b1" stroke-width="4" stroke-linejoin="round"/><polygon points="0.0,-10.4 7.1,-6.2 0.0,-2.1 -7.1,-6.2" fill="#66a6ca" stroke="#66a6ca" stroke-width="1.5" stroke-linejoin="round"/><circle cx="-5.6" cy="1.9" r="1.5" fill="#66a6ca"/><circle cx="-5.6" cy="7.5" r="1.5" fill="#66a6ca"/><circle cx="3.8" cy="3.8" r="1.5" fill="#66a6ca"/><circle cx="7.5" cy="1.2" r="1.5" fill="#66a6ca"/><circle cx="5.6" cy="7.8" r="1.5" fill="#66a6ca"/></g></g>
<g transform="translate(334.0,257.0) rotate(0) scale(1.05)" fill="none" stroke="#3d84b1" stroke-width="6"><circle cx="8" cy="3" r="14"/><circle cx="-7" cy="-2" r="16" fill="#66a6ca"/></g>
<g transform="translate(326.0,336.0) rotate(-30) scale(1.05)"><rect x="-8" y="-20" width="30" height="36" rx="7" fill="#3d84b1"/><rect x="-18" y="-16" width="27" height="34" rx="6" fill="#66a6ca" stroke="#3d84b1" stroke-width="5.5"/></g>
<g transform="translate(356.0,383.0) rotate(0) scale(1.05)" fill="none" stroke="#3d84b1" stroke-width="6"><circle cx="8" cy="3" r="14"/><circle cx="-7" cy="-2" r="16" fill="#66a6ca"/></g>
<g transform="translate(338.0,484.0) rotate(-30) scale(1.05)"><rect x="-8" y="-20" width="30" height="36" rx="7" fill="#3d84b1"/><rect x="-18" y="-16" width="27" height="34" rx="6" fill="#66a6ca" stroke="#3d84b1" stroke-width="5.5"/></g>
<g transform="translate(338.0,571.0) rotate(-10) scale(1.05)" fill="#3d84b1"><path d="M-18 6 C-24 -4 -18 -14 -8 -12 C-6 -22 8 -24 12 -12 C22 -14 26 -2 20 6 C14 2 8 4 8 8 C4 22 -10 22 -12 8 C-12 4 -16 2 -18 6 Z"/><circle cx="-20" cy="9" r="3"/><circle cx="22" cy="9" r="3"/><circle cx="-13" cy="-15" r="3"/><path d="M-12 8 C-4 11 2 11 8 8" stroke="#66a6ca" stroke-width="1.2" fill="none"/></g>
<g transform="translate(325.0,646.0) rotate(0) scale(1.05)"><g transform="translate(-12.0,-5.0) rotate(-12)"><polygon points="0.0,-12.5 10.8,-6.2 10.8,6.2 0.0,12.5 -10.8,6.2 -10.8,-6.3" fill="#3d84b1" stroke="#3d84b1" stroke-width="4" stroke-linejoin="round"/><polygon points="0.0,-10.4 7.1,-6.2 0.0,-2.1 -7.1,-6.2" fill="#66a6ca" stroke="#66a6ca" stroke-width="1.5" stroke-linejoin="round"/><circle cx="-5.6" cy="1.9" r="1.5" fill="#66a6ca"/><circle cx="-5.6" cy="7.5" r="1.5" fill="#66a6ca"/><circle cx="3.8" cy="3.8" r="1.5" fill="#66a6ca"/><circle cx="7.5" cy="1.2" r="1.5" fill="#66a6ca"/><circle cx="5.6" cy="7.8" r="1.5" fill="#66a6ca"/></g><g transform="translate(13.0,8.0) rotate(10)"><polygon points="0.0,-12.5 10.8,-6.2 10.8,6.2 0.0,12.5 -10.8,6.2 -10.8,-6.3" fill="#3d84b1" stroke="#3d84b1" stroke-width="4" stroke-linejoin="round"/><polygon points="0.0,-10.4 7.1,-6.2 0.0,-2.1 -7.1,-6.2" fill="#66a6ca" stroke="#66a6ca" stroke-width="1.5" stroke-linejoin="round"/><circle cx="-5.6" cy="1.9" r="1.5" fill="#66a6ca"/><circle cx="-5.6" cy="7.5" r="1.5" fill="#66a6ca"/><circle cx="3.8" cy="3.8" r="1.5" fill="#66a6ca"/><circle cx="7.5" cy="1.2" r="1.5" fill="#66a6ca"/><circle cx="5.6" cy="7.8" r="1.5" fill="#66a6ca"/></g></g>
<g transform="translate(357.0,704.0) rotate(-10) scale(1.05)" fill="#3d84b1"><path d="M-18 6 C-24 -4 -18 -14 -8 -12 C-6 -22 8 -24 12 -12 C22 -14 26 -2 20 6 C14 2 8 4 8 8 C4 22 -10 22 -12 8 C-12 4 -16 2 -18 6 Z"/><circle cx="-20" cy="9" r="3"/><circle cx="22" cy="9" r="3"/><circle cx="-13" cy="-15" r="3"/><path d="M-12 8 C-4 11 2 11 8 8" stroke="#66a6ca" stroke-width="1.2" fill="none"/></g>
<g transform="translate(338.0,798.0) rotate(0) scale(1.05)"><g transform="translate(-12.0,-5.0) rotate(-12)"><polygon points="0.0,-12.5 10.8,-6.2 10.8,6.2 0.0,12.5 -10.8,6.2 -10.8,-6.3" fill="#3d84b1" stroke="#3d84b1" stroke-width="4" stroke-linejoin="round"/><polygon points="0.0,-10.4 7.1,-6.2 0.0,-2.1 -7.1,-6.2" fill="#66a6ca" stroke="#66a6ca" stroke-width="1.5" stroke-linejoin="round"/><circle cx="-5.6" cy="1.9" r="1.5" fill="#66a6ca"/><circle cx="-5.6" cy="7.5" r="1.5" fill="#66a6ca"/><circle cx="3.8" cy="3.8" r="1.5" fill="#66a6ca"/><circle cx="7.5" cy="1.2" r="1.5" fill="#66a6ca"/><circle cx="5.6" cy="7.8" r="1.5" fill="#66a6ca"/></g><g transform="translate(13.0,8.0) rotate(10)"><polygon points="0.0,-12.5 10.8,-6.2 10.8,6.2 0.0,12.5 -10.8,6.2 -10.8,-6.3" fill="#3d84b1" stroke="#3d84b1" stroke-width="4" stroke-linejoin="round"/><polygon points="0.0,-10.4 7.1,-6.2 0.0,-2.1 -7.1,-6.2" fill="#66a6ca" stroke="#66a6ca" stroke-width="1.5" stroke-linejoin="round"/><circle cx="-5.6" cy="1.9" r="1.5" fill="#66a6ca"/><circle cx="-5.6" cy="7.5" r="1.5" fill="#66a6ca"/><circle cx="3.8" cy="3.8" r="1.5" fill="#66a6ca"/><circle cx="7.5" cy="1.2" r="1.5" fill="#66a6ca"/><circle cx="5.6" cy="7.8" r="1.5" fill="#66a6ca"/></g></g>
<g transform="translate(338.0,910.0) rotate(0) scale(1.05)" fill="none" stroke="#3d84b1" stroke-width="6"><circle cx="8" cy="3" r="14"/><circle cx="-7" cy="-2" r="16" fill="#66a6ca"/></g>
<g transform="translate(327.0,975.0) rotate(-30) scale(1.05)"><rect x="-8" y="-20" width="30" height="36" rx="7" fill="#3d84b1"/><rect x="-18" y="-16" width="27" height="34" rx="6" fill="#66a6ca" stroke="#3d84b1" stroke-width="5.5"/></g>
</svg>

<!-- sidebar -->
<div id="side" class="abs"></div>
<svg class="abs" style="left:0;top:0" width="324" height="400" viewBox="0 0 324 400">
<circle cx="162" cy="162" r="125" fill="#fff"/>
<clipPath id="lc"><circle cx="162" cy="162" r="113.5"/></clipPath>
<g clip-path="url(#lc)"><g transform="rotate(-14.6 162 162)">
<rect x="20" y="20.0" width="290" height="63.5" fill="#fb5b66"/>
<rect x="20" y="82.5" width="290" height="52.2" fill="#fdc531"/>
<rect x="20" y="133.7" width="290" height="53.2" fill="#8cc822"/>
<rect x="20" y="185.9" width="290" height="48.7" fill="#1a82c6"/>
<rect x="20" y="233.6" width="290" height="87.4" fill="#6b4a99"/>
</g></g>
<g transform="translate(62,50) scale(0.22222)">
<g fill="#fff" stroke="#fff" stroke-width="76" stroke-linejoin="round"><path d="M255 447 L243 398 C215 388 178 412 160 447 C125 385 128 322 175 290 C220 268 290 272 328 258 L326 233 C300 226 285 233 270 236 L250 162 C300 120 360 100 410 105 C470 112 522 160 546 262 C620 250 700 290 735 350 C760 390 752 430 742 452 C720 412 680 396 642 400 L630 447 C500 470 380 470 255 447 Z"/><path d="M250 466 C380 488 500 488 630 466 C632 562 540 640 438 640 C340 640 248 562 250 466 Z"/><path d="M318 622 C280 700 246 820 250 930 C252 1000 290 1020 438 1022 C600 1020 652 1000 662 930 C666 820 622 700 588 622 C540 668 360 668 318 622 Z"/><circle cx="235" cy="200" r="36"/><circle cx="190" cy="482" r="36"/><circle cx="690" cy="482" r="36"/></g>
<g fill="#000"><path d="M255 447 L243 398 C215 388 178 412 160 447 C125 385 128 322 175 290 C220 268 290 272 328 258 L326 233 C300 226 285 233 270 236 L250 162 C300 120 360 100 410 105 C470 112 522 160 546 262 C620 250 700 290 735 350 C760 390 752 430 742 452 C720 412 680 396 642 400 L630 447 C500 470 380 470 255 447 Z"/><path d="M250 466 C380 488 500 488 630 466 C632 562 540 640 438 640 C340 640 248 562 250 466 Z"/><path d="M318 622 C280 700 246 820 250 930 C252 1000 290 1020 438 1022 C600 1020 652 1000 662 930 C666 820 622 700 588 622 C540 668 360 668 318 622 Z"/></g>
<g fill="#fff"><circle cx="235" cy="200" r="50"/><circle cx="190" cy="482" r="50"/><circle cx="690" cy="482" r="50"/></g>
<g fill="#000"><circle cx="235" cy="200" r="36"/><circle cx="190" cy="482" r="36"/><circle cx="690" cy="482" r="36"/></g>
</g>
<g font-weight="normal" font-size="36" text-anchor="middle" stroke-linejoin="round" stroke-linecap="round" stroke-width="3.0">
<text transform="translate(53.8,290.3) rotate(42.2) scale(0.86,1)" y="13" fill="#2b86d4" stroke="#2b86d4">S</text>
<text transform="translate(74.0,304.9) rotate(33.3) scale(0.86,1)" y="13" fill="#f85d65" stroke="#f85d65">H</text>
<text transform="translate(95.5,316.6) rotate(24.6) scale(0.86,1)" y="13" fill="#86cb2c" stroke="#86cb2c">E</text>
<text transform="translate(117.7,325.0) rotate(16.0) scale(0.86,1)" y="13" fill="#6b4a9a" stroke="#6b4a9a">N</text>
<text transform="translate(142.7,331.3) rotate(6.9) scale(0.86,1)" y="13" fill="#fdc53a" stroke="#fdc53a">A</text>
<text transform="translate(168.4,331.9) rotate(-2.3) scale(0.86,1)" y="13" fill="#1e86cf" stroke="#1e86cf">N</text>
<text transform="translate(188.6,327.8) rotate(-9.6) scale(0.86,1)" y="13" fill="#f85d65" stroke="#f85d65" font-size="40">i</text>
<text transform="translate(208.7,323.6) rotate(-17.0) scale(0.86,1)" y="13" fill="#86cb2c" stroke="#86cb2c">G</text>
<text transform="translate(231.7,317.3) rotate(-25.5) scale(0.86,1)" y="13" fill="#fdc53a" stroke="#fdc53a">A</text>
<text transform="translate(252.5,304.9) rotate(-34.1) scale(0.86,1)" y="13" fill="#f85d65" stroke="#f85d65">N</text>
<text transform="translate(271.3,289.6) rotate(-42.7) scale(0.86,1)" y="13" fill="#6b4a9a" stroke="#6b4a9a">S</text>
</g>
</svg>

<div class="btn cy" style="left:32px;top:842px;width:260px;height:130px;font-size:23.5px;">
  <div class="face" style="height:124px;"></div><span style="top:52px;letter-spacing:0.18px;">Detailed Statistics</span>
</div>
<div class="btn rd" style="left:32px;top:982.5px;width:260px;height:65px;font-size:23.5px;">
  <div class="face" style="height:60px;"></div><span style="top:18px;letter-spacing:0.2px;">Quit to Main Menu</span>
</div>

<!-- main panel -->
<div id="panel" class="abs"><div class="mid"></div><div class="in"></div></div>

<div id="title" class="abs">Statistics Graphs</div>

<div class="btn tab cy" style="left:1327px;"><div class="face"></div><span>Placing</span></div>
<div class="btn tab cy" style="left:1466px;"><div class="face"></div><span>Coins</span></div>
<div class="btn tab gr" style="left:1604px;"><div class="face"></div><span>Cards</span></div>
<div class="btn tab cy" style="left:1742px;"><div class="face"></div><span>Dice</span></div>

<!-- chart -->
<svg class="abs" style="left:0;top:0" width="1920" height="1080" viewBox="0 0 1920 1080">
<rect x="390" y="217.5" width="1411" height="769" rx="3" fill="#ebebeb"/>
<rect x="530.6" y="217.5" width="2" height="769" fill="#fff"/>
<rect x="671.7" y="217.5" width="2" height="769" fill="#fff"/>
<rect x="812.8" y="217.5" width="2" height="769" fill="#fff"/>
<rect x="953.9" y="217.5" width="2" height="769" fill="#fff"/>
<rect x="1095.0" y="217.5" width="2" height="769" fill="#fff"/>
<rect x="1236.1" y="217.5" width="2" height="769" fill="#fff"/>
<rect x="1377.2" y="217.5" width="2" height="769" fill="#fff"/>
<rect x="1518.3" y="217.5" width="2" height="769" fill="#fff"/>
<rect x="1659.4" y="217.5" width="2" height="769" fill="#fff"/>
<rect x="390" y="875.5" width="1411" height="2.2" fill="#fff"/>
<rect x="390" y="765.7" width="1411" height="2.2" fill="#fff"/>
<rect x="390" y="655.8" width="1411" height="2.2" fill="#fff"/>
<rect x="390" y="546.0" width="1411" height="2.2" fill="#fff"/>
<rect x="390" y="436.1" width="1411" height="2.2" fill="#fff"/>
<rect x="390" y="326.2" width="1411" height="2.2" fill="#fff"/>
<polyline points="394.0,626.5 569.5,626.5 587.0,590.2 709.8,590.2 727.4,517.7 885.3,517.7 902.8,481.4 937.9,481.4 955.4,517.7 990.5,517.7 1008.1,408.9 1130.9,408.9 1148.4,372.6 1271.2,372.6 1288.8,336.3 1411.6,336.3 1429.2,263.8 1481.8,263.8 1499.3,517.7 1552.0,517.7 1569.5,445.1 1692.3,445.1 1709.9,300.1 1797.6,300.1" fill="none" stroke="#5B24FB" stroke-width="3.7" stroke-linejoin="miter" stroke-miterlimit="3" stroke-linecap="butt"/>
<polyline points="394.0,624.8 464.2,624.8 481.7,733.6 604.5,733.6 622.1,661.1 744.9,661.1 762.4,624.8 885.3,624.8 902.8,915.0 1025.6,915.0 1043.2,769.9 1166.0,769.9 1183.5,878.7 1446.7,878.7 1464.2,842.4 1481.8,842.4 1499.3,516.0 1587.1,516.0 1604.6,588.5 1727.4,588.5 1745.0,443.4 1797.6,443.4" fill="none" stroke="#FB0D55" stroke-width="3.7" stroke-linejoin="miter" stroke-miterlimit="3" stroke-linecap="butt"/>
<polyline points="394.0,623.5 411.5,623.5 429.1,587.2 692.3,587.2 709.8,478.4 832.6,478.4 850.2,587.2 885.3,587.2 902.8,551.0 1253.7,551.0 1271.2,587.2 1394.1,587.2 1411.6,623.5 1481.8,623.5 1499.3,478.4 1534.4,478.4 1552.0,333.3 1674.8,333.3 1692.3,405.9 1797.6,405.9" fill="none" stroke="#5F7389" stroke-width="3.7" stroke-linejoin="miter" stroke-miterlimit="3" stroke-linecap="butt"/>
<polyline points="394.0,622.1 516.8,622.1 534.4,513.3 622.1,513.3 639.6,477.0 762.4,477.0 780.0,513.3 867.7,513.3 885.3,549.6 902.8,513.3 920.4,477.0 1043.2,477.0 1060.7,368.2 1183.5,368.2 1201.1,295.7 1464.2,295.7 1481.8,223.1 1499.3,513.3 1604.6,513.3 1622.2,477.0 1745.0,477.0 1762.5,368.2 1797.6,368.2" fill="none" stroke="#19C3FB" stroke-width="3.7" stroke-linejoin="miter" stroke-miterlimit="3" stroke-linecap="butt"/>
<polyline points="394.0,620.7 587.0,620.7 604.5,548.2 727.4,548.2 744.9,511.9 867.7,511.9 885.3,657.0 902.8,620.7 1008.1,620.7 1025.6,584.4 1148.4,584.4 1166.0,548.2 1288.8,548.2 1306.3,511.9 1569.5,511.9 1587.1,475.6 1709.9,475.6 1727.4,548.2 1797.6,548.2" fill="none" stroke="#4CD21F" stroke-width="3.7" stroke-linejoin="miter" stroke-miterlimit="3" stroke-linecap="butt"/>
<polyline points="394.0,618.7 780.0,618.7 797.5,582.4 885.3,582.4 902.8,546.2 1060.7,546.2 1078.3,509.9 1341.4,509.9 1359.0,582.4 1481.8,582.4 1499.3,509.9 1622.2,509.9 1639.7,437.3 1797.6,437.3" fill="none" stroke="#F84FA6" stroke-width="3.7" stroke-linejoin="miter" stroke-miterlimit="3" stroke-linecap="butt"/>
<polyline points="394.0,617.0 411.5,580.7 534.4,580.7 551.9,689.5 674.7,689.5 692.3,653.3 815.1,653.3 832.6,762.1 850.2,725.8 885.3,725.8 902.8,689.5 955.4,689.5 973.0,580.7 1095.8,580.7 1113.3,363.1 1236.2,363.1 1253.7,399.4 1481.8,399.4 1499.3,471.9 1516.9,471.9 1534.4,544.5 1657.2,544.5 1674.8,653.3 1797.6,653.3" fill="none" stroke="#FF7F00" stroke-width="3.7" stroke-linejoin="miter" stroke-miterlimit="3" stroke-linecap="butt"/>
<polyline points="394.0,615.3 516.8,615.3 534.4,760.4 657.2,760.4 674.7,687.8 885.3,687.8 902.8,651.6 937.9,651.6 955.4,542.8 1218.6,542.8 1236.2,579.0 1359.0,579.0 1376.5,506.5 1499.3,506.5 1516.9,470.2 1639.7,470.2 1657.2,542.8 1780.1,542.8 1797.6,579.0" fill="none" stroke="#FFA30A" stroke-width="3.7" stroke-linejoin="miter" stroke-miterlimit="3" stroke-linecap="butt"/>
<g font-size="22" font-weight="bold" fill="#000">
<text transform="translate(390.0,1019.6) scale(0.91,1)" text-anchor="middle">0</text>
<text transform="translate(531.1,1019.6) scale(0.91,1)" text-anchor="middle">1</text>
<text transform="translate(672.2,1019.6) scale(0.91,1)" text-anchor="middle">2</text>
<text transform="translate(813.3,1019.6) scale(0.91,1)" text-anchor="middle">3</text>
<text transform="translate(954.4,1019.6) scale(0.91,1)" text-anchor="middle">4</text>
<text transform="translate(1095.5,1019.6) scale(0.91,1)" text-anchor="middle">5</text>
<text transform="translate(1236.6,1019.6) scale(0.91,1)" text-anchor="middle">6</text>
<text transform="translate(1377.7,1019.6) scale(0.91,1)" text-anchor="middle">7</text>
<text transform="translate(1518.8,1019.6) scale(0.91,1)" text-anchor="middle">8</text>
<text transform="translate(1659.9,1019.6) scale(0.91,1)" text-anchor="middle">9</text>
<text transform="translate(1801.0,1019.6) scale(0.91,1)" text-anchor="middle">10</text>
<text transform="translate(1817.2,990.6) scale(0.91,1)">0</text>
<text transform="translate(1817.2,881.1) scale(0.91,1)">3</text>
<text transform="translate(1817.2,771.6) scale(0.91,1)">6</text>
<text transform="translate(1817.2,662.1) scale(0.91,1)">9</text>
<text transform="translate(1817.2,552.6) scale(0.91,1)">12</text>
<text transform="translate(1817.2,443.1) scale(0.91,1)">15</text>
<text transform="translate(1817.2,333.6) scale(0.91,1)">18</text>
<text transform="translate(1817.2,224.1) scale(0.91,1)">21</text>
</g>
<g transform="translate(434.4,150.3)"><circle cx="0" cy="0" r="47.2" fill="#4a20cf"/><circle cx="0" cy="0" r="41.8" fill="#5b27fb"/><path d="M-15 44 L-14 33 L8 30 L16 40 Z" fill="#8a8a8a"/><clipPath id="h1623443289550631898"><rect x="-22" y="-25" width="43" height="59" rx="13" ry="14"/></clipPath><g clip-path="url(#h1623443289550631898)"><rect x="-22" y="-25" width="43" height="59" fill="#f0a486"/><path d="M12 5 L22 3 L22 35 L1 35 C9 28 12 18 12 5 Z" fill="#d98a70"/><path d="M-23 -26 L22 -26 L22 7 L14 7 L12 11 C8 4 5 -6 2 -12 L-16 -13 C-20 -13 -22 -12 -23 -9 Z" fill="#33262a"/></g><circle cx="-3.5" cy="1.5" r="5.6" fill="#111"/><path d="M-14 -13 L-3.5 1.5 M-3.5 1.5 L21 1" stroke="#111" stroke-width="1.8" fill="none"/><circle cx="-17.5" cy="2" r="1.8" fill="#111"/><path d="M-21 -3 L-14 -1.5" stroke="#222" stroke-width="2"/><path d="M-2 8 L-4 14" stroke="#d22" stroke-width="1.2"/><path d="M-16 17 C-13 19 -9 19 -7 17" stroke="#b86a55" stroke-width="1.3" fill="none"/></g>
<g transform="translate(557.0,150.3)"><circle cx="0" cy="0" r="47.2" fill="#d40b48"/><circle cx="0" cy="0" r="41.8" fill="#fb0d55"/><rect x="-22" y="-27" width="44" height="56" rx="13" fill="#27506b"/><path d="M-22 -10 C-22 -24 -12 -27 0 -27 C-8 -20 -14 -8 -14 6 L-22 6 Z" fill="#356684"/><path d="M-21 16 C-18 8 -8 8 -4 12 C0 8 8 10 10 18 C12 28 2 34 -6 34 C-16 34 -22 28 -21 16 Z" fill="#a9c0e0"/><path d="M-8 30 L8 24 L10 32 L-4 38 Z" fill="#dfe8f5"/><circle cx="-17.5" cy="4" r="3.6" fill="#fff"/><circle cx="-17" cy="4.5" r="2" fill="#111"/><circle cx="-1.5" cy="4" r="2.2" fill="#111"/><path d="M-3 -5 C0 -8 5 -8 8 -5" stroke="#dfe8f5" stroke-width="2.4" fill="none" stroke-linecap="round"/><path d="M-12 18 C-10 21 -7 21 -5 18" stroke="#4a6fa0" stroke-width="1.2" fill="none"/><circle cx="-9" cy="13" r="1.4" fill="#1d3d55"/></g>
<g transform="translate(679.7,150.3)"><circle cx="0" cy="0" r="47.2" fill="#4e6074"/><circle cx="0" cy="0" r="41.8" fill="#5f7389"/><path d="M-10 44 L-8 30 L12 28 L20 40 Z" fill="#efc39a"/><rect x="-24" y="-12" width="43" height="46" rx="14" fill="#fbe3bd"/><path d="M-2 34 C8 30 12 20 12 8 L19 8 L19 22 C19 30 12 34 -2 34 Z" fill="#f3cfa6"/><path d="M7 -10 L19 -10 L19 12 C15 13 11 9 11 3 C10 -2 8 -6 7 -10 Z" fill="#a0673a"/><path d="M-24 -4 L-18 -6 L-18 2 L-24 4 Z" fill="#a0673a"/><ellipse cx="-13" cy="20" rx="11.5" ry="9.5" fill="#fdf3d2"/><path d="M-23 12 C-20 7 -12 4 -7 5 L1 15 C-4 14 -10 13 -14 14 C-18 13 -21 13 -23 12 Z" fill="#f6b23a"/><circle cx="-4.5" cy="3" r="2.2" fill="#2a1a1a"/><circle cx="-19.5" cy="3.5" r="1.8" fill="#2a1a1a"/><path d="M-8 -2 L-1 -1" stroke="#8a5a34" stroke-width="1.6"/><path d="M-17 14 L-13 14 L-15 16.5 Z" fill="#222"/><path d="M-19 20 C-16 22 -13 22 -11 20" stroke="#ee3f9a" stroke-width="1.4" fill="none"/><ellipse cx="1" cy="-15.5" rx="33" ry="9" fill="#5e7a3c"/><ellipse cx="1" cy="-17.5" rx="32.5" ry="8" fill="#7f9e55"/><path d="M-18 -19 C-18 -35 -10 -38 0 -38 C12 -38 20 -34 20 -19 C8 -14 -8 -14 -18 -19 Z" fill="#7c9b52"/><path d="M-18 -21 C-8 -16.5 8 -16.5 20 -21" stroke="#8a3a2a" stroke-width="1.3" fill="none"/></g>
<g transform="translate(802.3,150.3)"><circle cx="0" cy="0" r="47.2" fill="#15a2d2"/><circle cx="0" cy="0" r="41.8" fill="#19c3fb"/><path d="M-10 44 L-8 30 L10 28 L18 40 Z" fill="#e8e8e8"/><clipPath id="h6481941595061842325"><rect x="-22" y="-26" width="43" height="58" rx="13" ry="14"/></clipPath><g clip-path="url(#h6481941595061842325)"><rect x="-22" y="-26" width="43" height="58" fill="#ef9f82"/><path d="M12 5 L22 3 L22 33 L1 33 C9 26 12 16 12 5 Z" fill="#d6856c"/><path d="M-23 -27 L22 -27 L22 7 L14 7 L12 11 C8 4 5 -6 2 -12 L-16 -13 C-20 -13 -22 -12 -23 -9 Z" fill="#2e2224"/></g><circle cx="-1" cy="5" r="5" fill="#111"/><path d="M-14 -10 L-1 5" stroke="#111" stroke-width="1.6"/><g fill="none" stroke="#4338c0" stroke-width="2.3"><circle cx="-19.5" cy="5" r="6"/><circle cx="-1" cy="5" r="6.8"/><path d="M5.5 4 L15 1"/></g><circle cx="-17" cy="6" r="1.7" fill="#111"/><path d="M-14 19 C-11 21 -8 21 -6 19" stroke="#b86a55" stroke-width="1.3" fill="none"/></g>
<g transform="translate(925.0,150.3)"><circle cx="0" cy="0" r="47.2" fill="#3fb01a"/><circle cx="0" cy="0" r="41.8" fill="#4cd21f"/><path d="M-10 44 L-8 30 L10 28 L18 40 Z" fill="#c44"/><clipPath id="h2968126354305675061"><rect x="-22" y="-26" width="42" height="58" rx="13" ry="14"/></clipPath><g clip-path="url(#h2968126354305675061)"><rect x="-22" y="-26" width="42" height="58" fill="#fbe3c0"/><path d="M11 5 L21 3 L21 33 L0 33 C8 26 11 16 11 5 Z" fill="#f0c8a4"/><path d="M-23 -27 L21 -27 L21 7 L13 7 L11 11 C7 4 4 -6 1 -12 L-16 -13 C-20 -13 -22 -12 -23 -9 Z" fill="#2e2224"/></g><circle cx="-2" cy="8" r="2.2" fill="#111"/><circle cx="-18.5" cy="8" r="1.8" fill="#111"/><path d="M-7 0 C-4 -2 0 -2 3 0" stroke="#222" stroke-width="2" fill="none"/><path d="M-21 1 L-16 0" stroke="#222" stroke-width="2"/><path d="M-15 20 C-12 22 -9 22 -7 20" stroke="#d8a080" stroke-width="1.3" fill="none"/></g>
<g transform="translate(1047.6,150.3)"><circle cx="0" cy="0" r="47.2" fill="#cf438b"/><circle cx="0" cy="0" r="41.8" fill="#f84fa6"/><ellipse cx="-9" cy="-30" rx="6" ry="10" fill="#f7d36a"/><ellipse cx="-9" cy="-29" rx="4" ry="8" fill="#fdf0b4"/><ellipse cx="14.5" cy="-30" rx="6" ry="10" fill="#f7d36a"/><ellipse cx="14.5" cy="-29" rx="4" ry="8" fill="#fdf0b4"/><path d="M-8 44 L-6 28 L10 26 L18 40 Z" fill="#f59a23"/><rect x="-22" y="-25" width="43.5" height="50" rx="13" fill="#f59a23"/><path d="M8 -25 L21.5 -25 L21.5 20 C14 22 10 10 8 -25 Z" fill="#e0821a"/><path d="M-21 14 C-16 8 -6 8 0 14 C2 24 -2 32 -10 33 C-18 32 -22 24 -21 14 Z" fill="#fbefc8"/><g fill="none" stroke="#4338c0" stroke-width="2.1"><circle cx="-19" cy="5" r="5.6"/><circle cx="-0.5" cy="5" r="6"/><path d="M5.5 4 L15 1"/></g><circle cx="-17" cy="6" r="1.8" fill="#111"/><circle cx="-1" cy="6" r="2" fill="#111"/><path d="M-14 19 L-8 19 L-11 23 Z" fill="#d22"/></g>
<g transform="translate(1170.2,150.3)"><circle cx="0" cy="0" r="47.2" fill="#d96b00"/><circle cx="0" cy="0" r="41.8" fill="#ff7f00"/><path d="M-10 44 L-8 28 L10 26 L18 40 Z" fill="#3aa08a"/><rect x="-22.5" y="-12" width="42" height="42" rx="13" fill="#f2a68a"/><path d="M6 -10 L19.5 -10 L19.5 20 C14 26 4 28 -4 30 C4 20 6 10 6 -10 Z" fill="#db8a70"/><path d="M8 -8 L20 -8 L19 10 C15 12 10 6 8 -8 Z" fill="#1c1618"/><path d="M-25 -8 C-27 -22 -18 -32 0 -32 C18 -32 27 -24 26 -12 C26 -6 20 -5 14 -6 C2 -8 -12 -8 -25 -4 Z" fill="#9a4a32"/><path d="M-25 -8 C-12 -12 2 -12 14 -10 L14 -6 C2 -8 -12 -8 -25 -4 Z" fill="#7d3826"/><g fill="none" stroke="#4338c0" stroke-width="2.1"><circle cx="-19.5" cy="5" r="5.4"/><circle cx="-2.8" cy="5" r="5.8"/><path d="M3 4 L12 1"/></g><circle cx="-17" cy="6" r="1.7" fill="#111"/><circle cx="-3" cy="6" r="2" fill="#111"/><path d="M-7 -1 L1 2" stroke="#111" stroke-width="1.8"/><path d="M-18 20 C-15 15 -12 15 -10 18 C-8 15 -5 15 -2 20 C-5 19 -8 19 -10 20 C-12 19 -15 19 -18 20 Z" fill="#111" stroke="#111" stroke-width="1.5" stroke-linejoin="round"/></g>
<g transform="translate(1292.9,150.3)"><circle cx="0" cy="0" r="47.2" fill="#d88a08"/><circle cx="0" cy="0" r="41.8" fill="#ffa30a"/><path d="M-10 44 L-8 28 L10 26 L18 40 Z" fill="#f0b090"/><clipPath id="h3841928329558775939"><rect x="-21" y="-25" width="43" height="56" rx="13" ry="14"/></clipPath><g clip-path="url(#h3841928329558775939)"><rect x="-21" y="-25" width="43" height="56" fill="#f7b99c"/><path d="M13 5 L23 3 L23 32 L2 32 C10 25 13 15 13 5 Z" fill="#e59f84"/><path d="M-22 -26 L23 -26 L23 7 L15 7 L13 11 C9 4 6 -6 3 -12 L-15 -13 C-19 -13 -21 -12 -22 -9 Z" fill="#6b3326"/></g><g fill="none" stroke="#fff" stroke-width="1.6"><circle cx="-18.5" cy="6" r="5.4"/><circle cx="-1.6" cy="6" r="5.8"/></g><g fill="none" stroke="#111" stroke-width="2"><path d="M-24 5 C-23 0 -14 0 -13 5"/><path d="M-7.5 5 C-6 -1 3 -1 4.5 5"/><path d="M4.5 3 L14 1"/></g><circle cx="-16.5" cy="7" r="1.6" fill="#111"/><circle cx="-1.5" cy="7" r="1.9" fill="#111"/><path d="M-15 19 L-6 18 C-7 24 -13 25 -15 19 Z" fill="#c22"/><path d="M-15 19 L-6 18 L-7 20.5 L-14 21 Z" fill="#fff"/></g>
<g font-weight="bold" text-anchor="middle" stroke-linejoin="round" fill="#fff" stroke="#4a9ad0" paint-order="stroke">
<text transform="translate(433.0,184.5) rotate(-3.5)" font-size="14.5" stroke-width="2.6" textLength="43.0" lengthAdjust="spacingAndGlyphs">Goofy</text>
<text transform="translate(434.4,201.5) rotate(-4.6)" font-size="14.5" stroke-width="2.6" textLength="94.0" lengthAdjust="spacingAndGlyphs">McGoofFace</text>
<text transform="translate(555.5,195.8) rotate(-4.2)" font-size="18.5" stroke-width="2.8" textLength="94.0" lengthAdjust="spacingAndGlyphs">PitifulKing</text>
<text transform="translate(677.8,191.5) rotate(-4.6)" font-size="11.8" stroke-width="2.4" textLength="94.5" lengthAdjust="spacingAndGlyphs">AmbitiousHouse</text>
<text transform="translate(800.0,193.4) rotate(-4.6)" font-size="16.0" stroke-width="2.7" textLength="94.0" lengthAdjust="spacingAndGlyphs">SmallFlower</text>
<text transform="translate(923.0,193.0) rotate(-4.8)" font-size="18.0" stroke-width="2.8" textLength="94.0" lengthAdjust="spacingAndGlyphs">AngryNight</text>
<text transform="translate(1046.0,190.6) rotate(-4.6)" font-size="9.6" stroke-width="2.3" textLength="94.5" lengthAdjust="spacingAndGlyphs">ShapelyMotorcycle</text>
<text transform="translate(1168.0,192.5) rotate(-4.6)" font-size="16.0" stroke-width="2.7" textLength="94.5" lengthAdjust="spacingAndGlyphs">TeenyDream</text>
<text transform="translate(1291.2,191.5) rotate(-4.6)" font-size="13.2" stroke-width="2.5" textLength="93.5" lengthAdjust="spacingAndGlyphs">HugeMagazine</text>
</g>
</svg>
<!--NAMES-->

<div id="dev" class="abs">Development Build</div>
</body>
</html>
